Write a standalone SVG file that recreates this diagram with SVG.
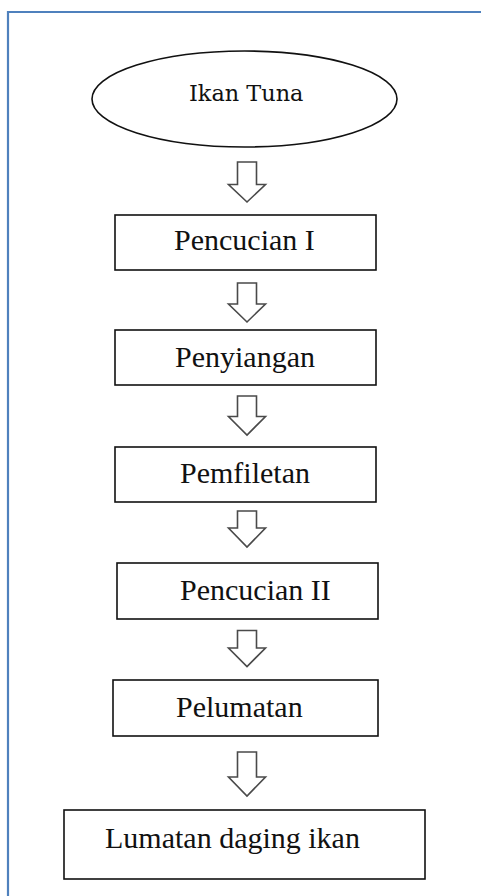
<svg xmlns="http://www.w3.org/2000/svg" width="481" height="896" viewBox="0 0 481 896">
<style>
.box{fill:#fff;stroke:#111;stroke-width:1.6}
.lbl{font-family:"Liberation Serif","Times New Roman",serif;font-size:30px;fill:#111}
.arr{fill:#fff;stroke:#4a4a4a;stroke-width:1.6;stroke-linejoin:miter}
</style>
<rect width="481" height="896" fill="#fff"/>
<path d="M8 896 V12 H481" fill="none" stroke="#4F81BD" stroke-width="2.2"/>
<g id="n0">
<ellipse cx="244.5" cy="99" rx="152.5" ry="48" fill="#fff" stroke="#111" stroke-width="1.6"/>
<text x="189" y="101" font-family="DejaVu Serif, serif" font-size="22.4" fill="#111">Ikan Tuna</text>
</g>
<g id="n1"><rect class="box" x="115" y="215" width="261" height="55"/><text class="lbl" x="174" y="250">Pencucian I</text></g>
<g id="n2"><rect class="box" x="115" y="330" width="261" height="55"/><text class="lbl" x="175" y="367">Penyiangan</text></g>
<g id="n3"><rect class="box" x="115" y="447" width="261" height="55"/><text class="lbl" x="180" y="483">Pemfiletan</text></g>
<g id="n4"><rect class="box" x="117" y="563" width="261" height="56"/><text class="lbl" x="180" y="600">Pencucian II</text></g>
<g id="n5"><rect class="box" x="113" y="680" width="265" height="56"/><text class="lbl" x="176" y="717">Pelumatan</text></g>
<g id="n6"><rect class="box" x="64" y="810" width="361" height="69"/><text class="lbl" x="105" y="848">Lumatan daging ikan</text></g>
<g id="connectors">
<path class="arr" d="M237.5 162 H256.5 V184.5 H265.5 L247 202 L228.5 184.5 H237.5 Z"/>
<path class="arr" d="M237.5 283 H256.5 V304 H265.5 L247 322 L228.5 304 H237.5 Z"/>
<path class="arr" d="M237.5 396 H256.5 V416.5 H265.5 L247 435 L228.5 416.5 H237.5 Z"/>
<path class="arr" d="M237.5 511 H256.5 V528 H265.5 L247 547 L228.5 528 H237.5 Z"/>
<path class="arr" d="M237.5 630.5 H256.5 V648 H265.5 L247 666.5 L228.5 648 H237.5 Z"/>
<path class="arr" d="M237.5 752 H256.5 V777 H265.5 L247 796 L228.5 777 H237.5 Z"/>
</g>
</svg>
